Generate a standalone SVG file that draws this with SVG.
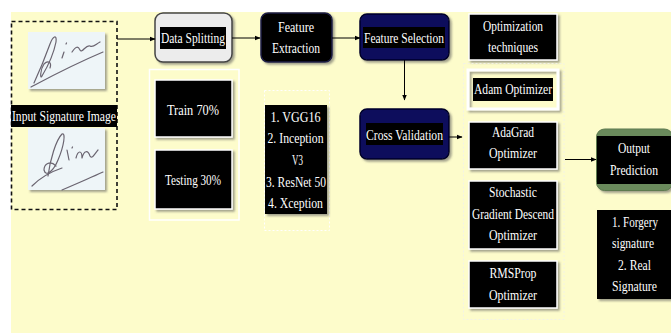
<svg xmlns="http://www.w3.org/2000/svg" width="671" height="333" viewBox="0 0 671 333">
  <defs>
    <style>
      .t { font-family: "Liberation Serif", "Times New Roman", serif; font-size: 15px; fill: #ffffff; text-anchor: middle; }
      .blk { fill: #000000; }
      .card { fill: #000000; stroke: #ffffff; stroke-width: 1.5; }
      .navy { fill: #0b0c5c; stroke: #05052a; stroke-width: 1.5; }
      .edge { stroke: #000000; stroke-width: 1; fill: none; }
      .sig { fill: none; stroke: #6a6470; stroke-width: 1.2; stroke-linecap: round; stroke-linejoin: round; }
    </style>
    <filter id="shadow" x="-10%" y="-10%" width="130%" height="130%">
      <feDropShadow dx="2" dy="2" stdDeviation="1" flood-color="#555555" flood-opacity="0.55"/>
    </filter>
    <marker id="arrow" viewBox="0 0 10 10" refX="9" refY="5" markerWidth="6" markerHeight="6" orient="auto" markerUnits="userSpaceOnUse">
      <path d="M0,1 L10,5 L0,9 Z" fill="#000000"/>
    </marker>
  </defs>

  <!-- page background -->
  <rect x="0" y="0" width="671" height="333" fill="#ffffff"/>
  <rect x="11" y="12" width="660" height="321" fill="#fdfccb"/>

  <!-- input images -->
  <g id="input">
    <rect x="11.5" y="21.5" width="105.5" height="188" fill="none" stroke="#111111" stroke-width="1.6" stroke-dasharray="4,3"/>
    <rect x="28" y="32" width="77" height="57" fill="#eef5f8" filter="url(#shadow)"/>
    <path class="sig" d="M34,83 C40,70 46,55 50,44 C53,36 57,34 56,42 C54,52 48,66 42,76 C40,80 40,70 44,64 C48,60 52,62 50,68"/>
    <path class="sig" d="M31,87 C48,78 70,66 103,52"/>
    <path class="sig" d="M62,58 L64,52 M66,44 L66.5,43"/>
    <path class="sig" d="M72,52 C76,46 78,46 80,50 C82,54 86,44 90,46 C93,48 96,44 100,42"/>
    <rect x="28" y="128" width="77" height="62" fill="#eef5f8" filter="url(#shadow)"/>
    <path class="sig" d="M48,176 C50,160 56,140 62,134 C66,132 64,146 58,160 C54,170 46,178 44,170 C44,164 50,160 56,166"/>
    <path class="sig" d="M32,186 C40,178 50,172 62,168"/>
    <path class="sig" d="M67,150 L69,160 M72,148 L72.5,147"/>
    <path class="sig" d="M76,158 C78,150 82,150 82,158 C84,150 88,150 90,156 C92,160 96,152 98,150"/>
    <path class="sig" d="M62,190 C76,184 90,178 103,172"/>
    <rect class="blk" x="11" y="105" width="106" height="22"/>
    <text class="t" x="64" y="121" textLength="104" lengthAdjust="spacingAndGlyphs">Input Signature Image</text>
  </g>

  <!-- data splitting -->
  <g id="data-splitting">
    <rect x="155" y="13" width="77" height="49" rx="8" fill="#ececec" stroke="#444444" stroke-width="1.5" filter="url(#shadow)"/>
    <rect class="blk" x="160" y="27" width="66" height="22"/>
    <text class="t" x="193" y="43" textLength="64" lengthAdjust="spacingAndGlyphs">Data Splitting</text>
  </g>

  <g id="split-ratios">
    <rect x="149.5" y="69.5" width="89.5" height="150.5" fill="none" stroke="#ffffff" stroke-width="1.5"/>
    <rect class="card" x="155" y="80" width="77" height="57" filter="url(#shadow)"/>
    <text class="t" x="193" y="115" textLength="52" lengthAdjust="spacingAndGlyphs">Train 70%</text>
    <rect class="card" x="155" y="150" width="77" height="59" filter="url(#shadow)"/>
    <text class="t" x="193" y="185" textLength="56" lengthAdjust="spacingAndGlyphs">Testing 30%</text>
  </g>

  <!-- feature extraction -->
  <g id="feature-extraction">
    <rect x="261" y="13" width="71" height="49" rx="7" fill="#000000" stroke="#1c1c46" stroke-width="1.5" filter="url(#shadow)"/>
    <text class="t" x="296" y="32" textLength="36" lengthAdjust="spacingAndGlyphs">Feature</text>
    <text class="t" x="296" y="53" textLength="48" lengthAdjust="spacingAndGlyphs">Extraction</text>
  </g>

  <g id="backbones">
    <rect x="264.5" y="90.5" width="65" height="140" fill="none" stroke="#ffffff" stroke-width="1" stroke-dasharray="2,2"/>
    <rect class="blk" x="265" y="105" width="62" height="109" filter="url(#shadow)"/>
    <text class="t" x="295.5" y="122" textLength="50" lengthAdjust="spacingAndGlyphs">1. VGG16</text>
    <text class="t" x="295.5" y="143" textLength="56" lengthAdjust="spacingAndGlyphs">2. Inception</text>
    <text class="t" x="297.5" y="165" textLength="11" lengthAdjust="spacingAndGlyphs">V3</text>
    <text class="t" x="296" y="187" textLength="60" lengthAdjust="spacingAndGlyphs">3. ResNet 50</text>
    <text class="t" x="295.5" y="208" textLength="55" lengthAdjust="spacingAndGlyphs">4. Xception</text>
  </g>

  <!-- feature selection and validation -->
  <g id="feature-selection">
    <rect class="navy" x="360" y="14" width="89" height="46" rx="7" filter="url(#shadow)"/>
    <rect class="blk" x="363" y="27" width="82" height="21"/>
    <text class="t" x="404" y="42.5" textLength="80" lengthAdjust="spacingAndGlyphs">Feature Selection</text>
  </g>

  <g id="cross-validation">
    <rect class="navy" x="360" y="109" width="89" height="50" rx="7" filter="url(#shadow)"/>
    <rect class="blk" x="366" y="123" width="77" height="22"/>
    <text class="t" x="404.5" y="140" textLength="77" lengthAdjust="spacingAndGlyphs">Cross Validation</text>
  </g>

  <!-- optimizers -->
  <g id="optimization-techniques">
    <rect class="card" x="469" y="14" width="88" height="46" filter="url(#shadow)"/>
    <text class="t" x="513" y="31" textLength="60" lengthAdjust="spacingAndGlyphs">Optimization</text>
    <text class="t" x="513" y="52" textLength="50" lengthAdjust="spacingAndGlyphs">techniques</text>
  </g>

  <g id="optimizers">
    <rect x="463.5" y="63.5" width="100.5" height="256" fill="none" stroke="#f2f2e6" stroke-width="1" stroke-dasharray="2,2"/>
  </g>

  <g id="adam">
    <rect x="468" y="70" width="90" height="39" fill="none" stroke="#ffffff" stroke-width="3" filter="url(#shadow)"/>
    <rect class="blk" x="473" y="78" width="80" height="23"/>
    <text class="t" x="513" y="94" textLength="78" lengthAdjust="spacingAndGlyphs">Adam Optimizer</text>
  </g>

  <g id="adagrad">
    <rect class="card" x="469" y="122" width="88" height="47" filter="url(#shadow)"/>
    <text class="t" x="513" y="137" textLength="42" lengthAdjust="spacingAndGlyphs">AdaGrad</text>
    <text class="t" x="513" y="158" textLength="48" lengthAdjust="spacingAndGlyphs">Optimizer</text>
  </g>

  <g id="sgd">
    <rect class="card" x="469" y="181" width="88" height="68" filter="url(#shadow)"/>
    <text class="t" x="513" y="197" textLength="48" lengthAdjust="spacingAndGlyphs">Stochastic</text>
    <text class="t" x="513" y="219" textLength="82" lengthAdjust="spacingAndGlyphs">Gradient Descend</text>
    <text class="t" x="513" y="240" textLength="48" lengthAdjust="spacingAndGlyphs">Optimizer</text>
  </g>

  <g id="rmsprop">
    <rect class="card" x="469" y="261" width="88" height="47" filter="url(#shadow)"/>
    <text class="t" x="513" y="278" textLength="47" lengthAdjust="spacingAndGlyphs">RMSProp</text>
    <text class="t" x="513" y="300" textLength="48" lengthAdjust="spacingAndGlyphs">Optimizer</text>
  </g>

  <!-- output -->
  <g id="output-prediction">
    <rect x="596.5" y="129" width="76" height="61.5" rx="8" fill="#6b8a5c" stroke="#5d7a50" stroke-width="1" filter="url(#shadow)"/>
    <rect class="blk" x="597" y="136" width="75" height="48"/>
    <text class="t" x="634" y="153" textLength="32" lengthAdjust="spacingAndGlyphs">Output</text>
    <text class="t" x="634" y="175" textLength="48" lengthAdjust="spacingAndGlyphs">Prediction</text>
  </g>

  <g id="classes">
    <rect class="blk" x="597" y="210" width="75" height="89" filter="url(#shadow)"/>
    <text class="t" x="635" y="227" textLength="46" lengthAdjust="spacingAndGlyphs">1. Forgery</text>
    <text class="t" x="633" y="248" textLength="42" lengthAdjust="spacingAndGlyphs">signature</text>
    <text class="t" x="634.5" y="270" textLength="33" lengthAdjust="spacingAndGlyphs">2. Real</text>
    <text class="t" x="634.5" y="291" textLength="45" lengthAdjust="spacingAndGlyphs">Signature</text>
  </g>

  <!-- connectors -->
  <g id="connectors">
    <path class="edge" d="M117,39 L155,39" marker-end="url(#arrow)"/>
    <path class="edge" d="M232,38 L260,38" marker-end="url(#arrow)"/>
    <path class="edge" d="M332,38 L360,38" marker-end="url(#arrow)"/>
    <path class="edge" d="M404.5,60 L404.5,100" marker-end="url(#arrow)"/>
    <path class="edge" d="M449,137 L462,137" marker-end="url(#arrow)"/>
    <path class="edge" d="M565,159.5 L596,159.5" marker-end="url(#arrow)"/>
  </g>
</svg>
